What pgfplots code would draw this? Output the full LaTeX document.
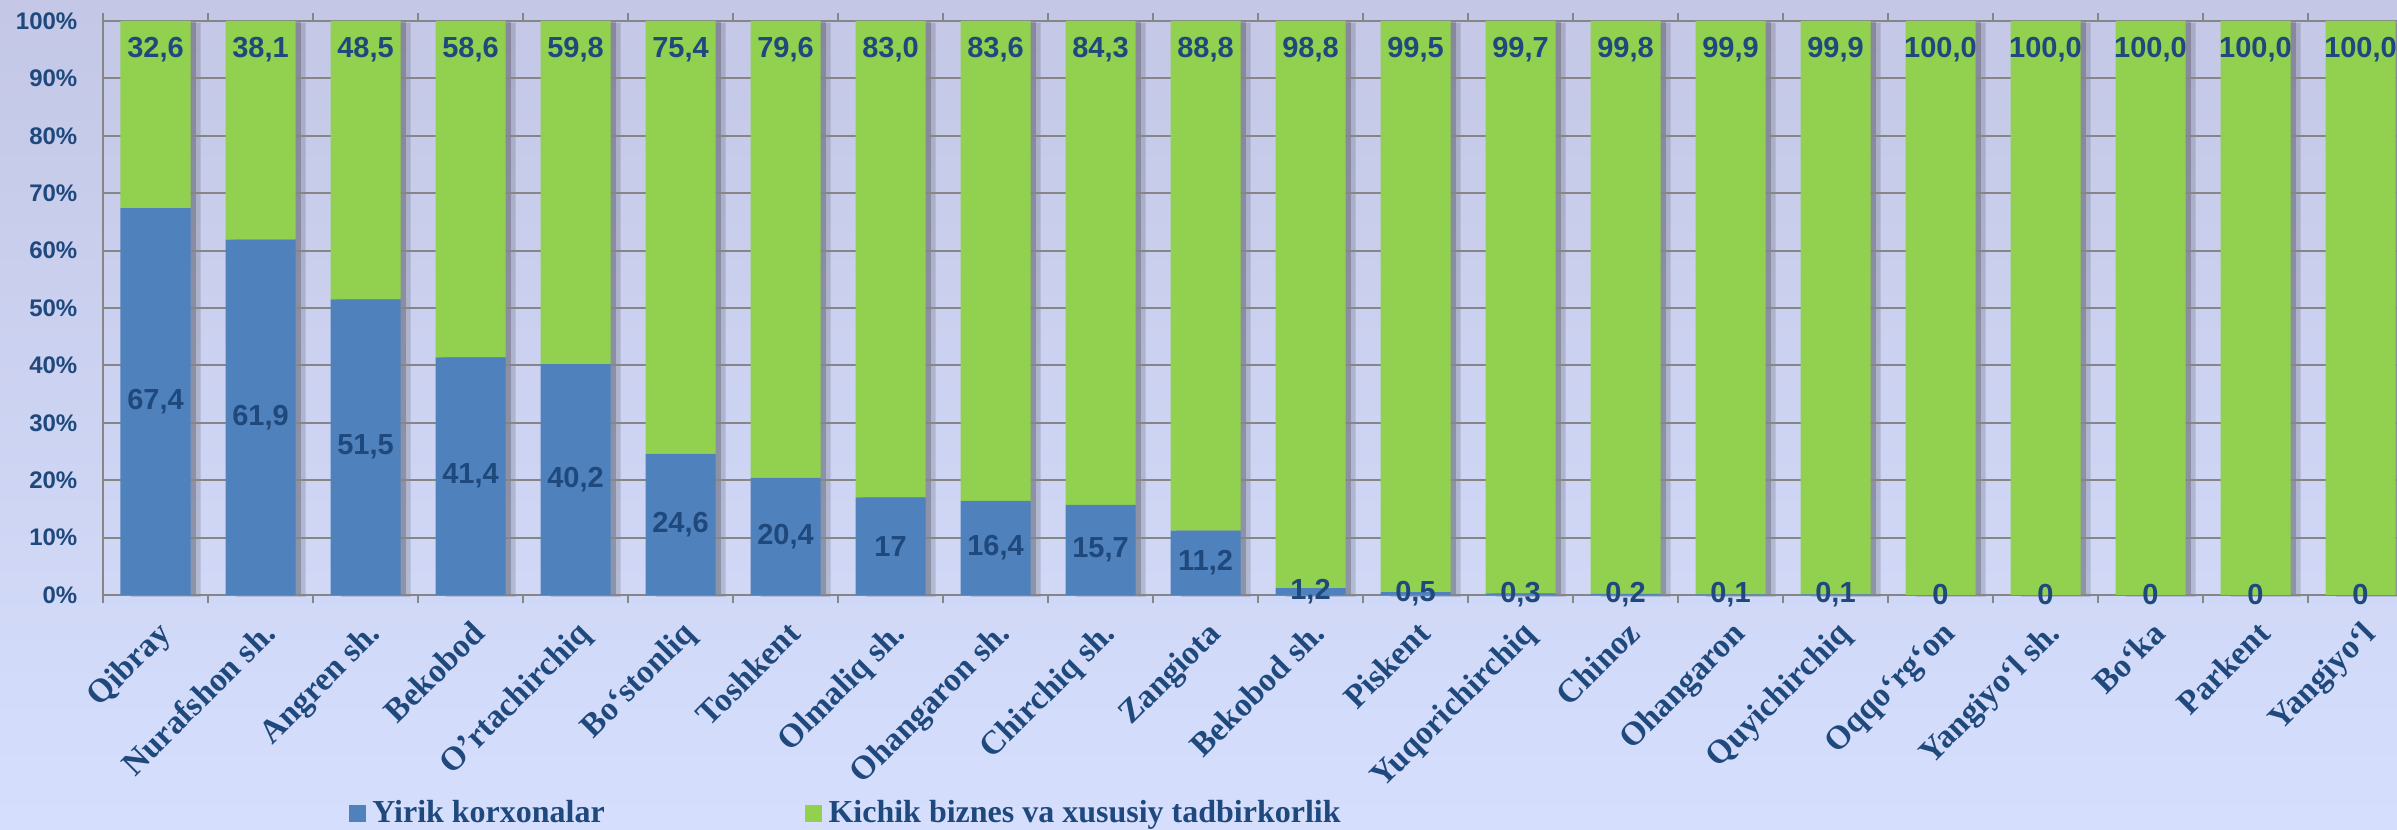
\documentclass[border=0pt]{standalone}
\usepackage{fontspec}
\setmainfont{Liberation Serif}
\newfontfamily\arialf{Liberation Sans}
\usepackage{pgfplots}
\usepackage{pgfplotstable}
\pgfplotsset{compat=1.18}
\definecolor{cblue}{HTML}{4F81BD}
\definecolor{cgreen}{HTML}{92D050}
\definecolor{ctext}{HTML}{1F497D}
\definecolor{cgrid}{HTML}{868686}
\definecolor{bgtop}{HTML}{C4C7E6}
\definecolor{bgbot}{HTML}{D5DFFD}

\pgfplotstableread{
x b g bl gl
0 67.4 32.6 67,4 32,6
1 61.9 38.1 61,9 38,1
2 51.5 48.5 51,5 48,5
3 41.4 58.6 41,4 58,6
4 40.2 59.8 40,2 59,8
5 24.6 75.4 24,6 75,4
6 20.4 79.6 20,4 79,6
7 17.0 83.0 17 83,0
8 16.4 83.6 16,4 83,6
9 15.7 84.3 15,7 84,3
10 11.2 88.8 11,2 88,8
11 1.2 98.8 1,2 98,8
12 0.5 99.5 0,5 99,5
13 0.3 99.7 0,3 99,7
14 0.2 99.8 0,2 99,8
15 0.1 99.9 0,1 99,9
16 0.1 99.9 0,1 99,9
17 0 100.0 0 100,0
18 0 100.0 0 100,0
19 0 100.0 0 100,0
20 0 100.0 0 100,0
21 0 100.0 0 100,0
}\data

\pgfplotsset{myax/.style={
  at={(30.9pt,70.2pt)}, anchor=south west,
  scale only axis, width=693pt, height=172.2pt,
  xmin=-0.5, xmax=21.5, ymin=0, ymax=100}}

\begin{document}
\begin{tikzpicture}
\shade[top color=bgtop, bottom color=bgbot] (0,0) rectangle (719.1pt,248.7pt);
% shadows behind the bars
\begin{axis}[myax, hide axis, ybar, bar width=21pt, clip=false]
\addplot[fill=black, fill opacity=0.14, draw=none, bar shift=3pt, yshift=-0.6pt] table[x=x, y expr=\thisrow{b}+\thisrow{g}] {\data};
\addplot[fill=black, fill opacity=0.2, draw=none, bar shift=1.6pt, yshift=-0.3pt] table[x=x, y expr=\thisrow{b}+\thisrow{g}] {\data};
\end{axis}
\begin{axis}[
  myax,
  ybar stacked, bar width=21pt,
  axis line style={cgrid, line width=0.6pt},
  ymajorgrids, grid style={cgrid, line width=0.6pt},
  ytick={0,10,...,100},
  yticklabels={0\%,10\%,20\%,30\%,40\%,50\%,60\%,70\%,80\%,90\%,100\%},
  yticklabel style={font=\arialf\bfseries\fontsize{7.2}{8}\selectfont, text=ctext, anchor=east, inner sep=0pt, xshift=-7.5pt},
  xtick={0,...,21},
  xticklabels={Qibray, Nurafshon sh., Angren sh., Bekobod, O’rtachirchiq, Bo‘stonliq, Toshkent, Olmaliq sh., Ohangaron sh., Chirchiq sh., Zangiota, Bekobod sh., Piskent, Yuqorichirchiq, Chinoz, Ohangaron, Quyichirchiq, Oqqo‘rg‘on, Yangiyo‘l sh., Bo‘ka, Parkent, Yangiyo‘l},
  xticklabel style={font=\bfseries\fontsize{10}{12}\selectfont, text=ctext, inner sep=0pt, yshift=-7pt, rotate=45, anchor=north east},
  minor xtick={-0.5,0.5,...,21.5},
  tick align=outside, major tick length=0pt, minor tick length=2.4pt,
  tick style={cgrid, line width=0.6pt},
  legend style={at={(0.3225,-0.3815)}, anchor=center, draw=none, fill=none, legend columns=2,
    font=\bfseries\fontsize{9.6}{11}\selectfont, text=ctext,
    /tikz/every even column/.append style={column sep=58pt}},
]
\addplot+[fill=cblue, draw=none,
  legend image code/.code={\fill[cblue] (0pt,-2.55pt) rectangle (5.1pt,2.55pt);}]
  table[x=x, y=b] {\data};
\addlegendentry{Yirik korxonalar}
\addplot+[fill=cgreen, draw=none,
  legend image code/.code={\fill[cgreen] (0pt,-2.55pt) rectangle (5.1pt,2.55pt);}]
  table[x=x, y=g] {\data};
\addlegendentry{Kichik biznes va xususiy tadbirkorlik}
\end{axis}
% value labels
\begin{axis}[myax, hide axis, clip=false]
\addplot[draw=none, mark=none, nodes near coords, point meta=explicit symbolic,
  every node near coord/.style={font=\arialf\bfseries\fontsize{8.7}{10}\selectfont, text=ctext, anchor=center, inner sep=0pt}]
  table[x=x, y expr=\thisrow{b}/2, meta=bl] {\data};
\addplot[draw=none, mark=none, nodes near coords, point meta=explicit symbolic,
  every node near coord/.style={font=\arialf\bfseries\fontsize{8.7}{10}\selectfont, text=ctext, anchor=center, inner sep=0pt, yshift=-8.7pt}]
  table[x=x, y expr=\thisrow{b}+\thisrow{g}, meta=gl] {\data};
\end{axis}
\pgfresetboundingbox
\useasboundingbox (0,0) rectangle (719.1pt,248.7pt);
\end{tikzpicture}
\end{document}
